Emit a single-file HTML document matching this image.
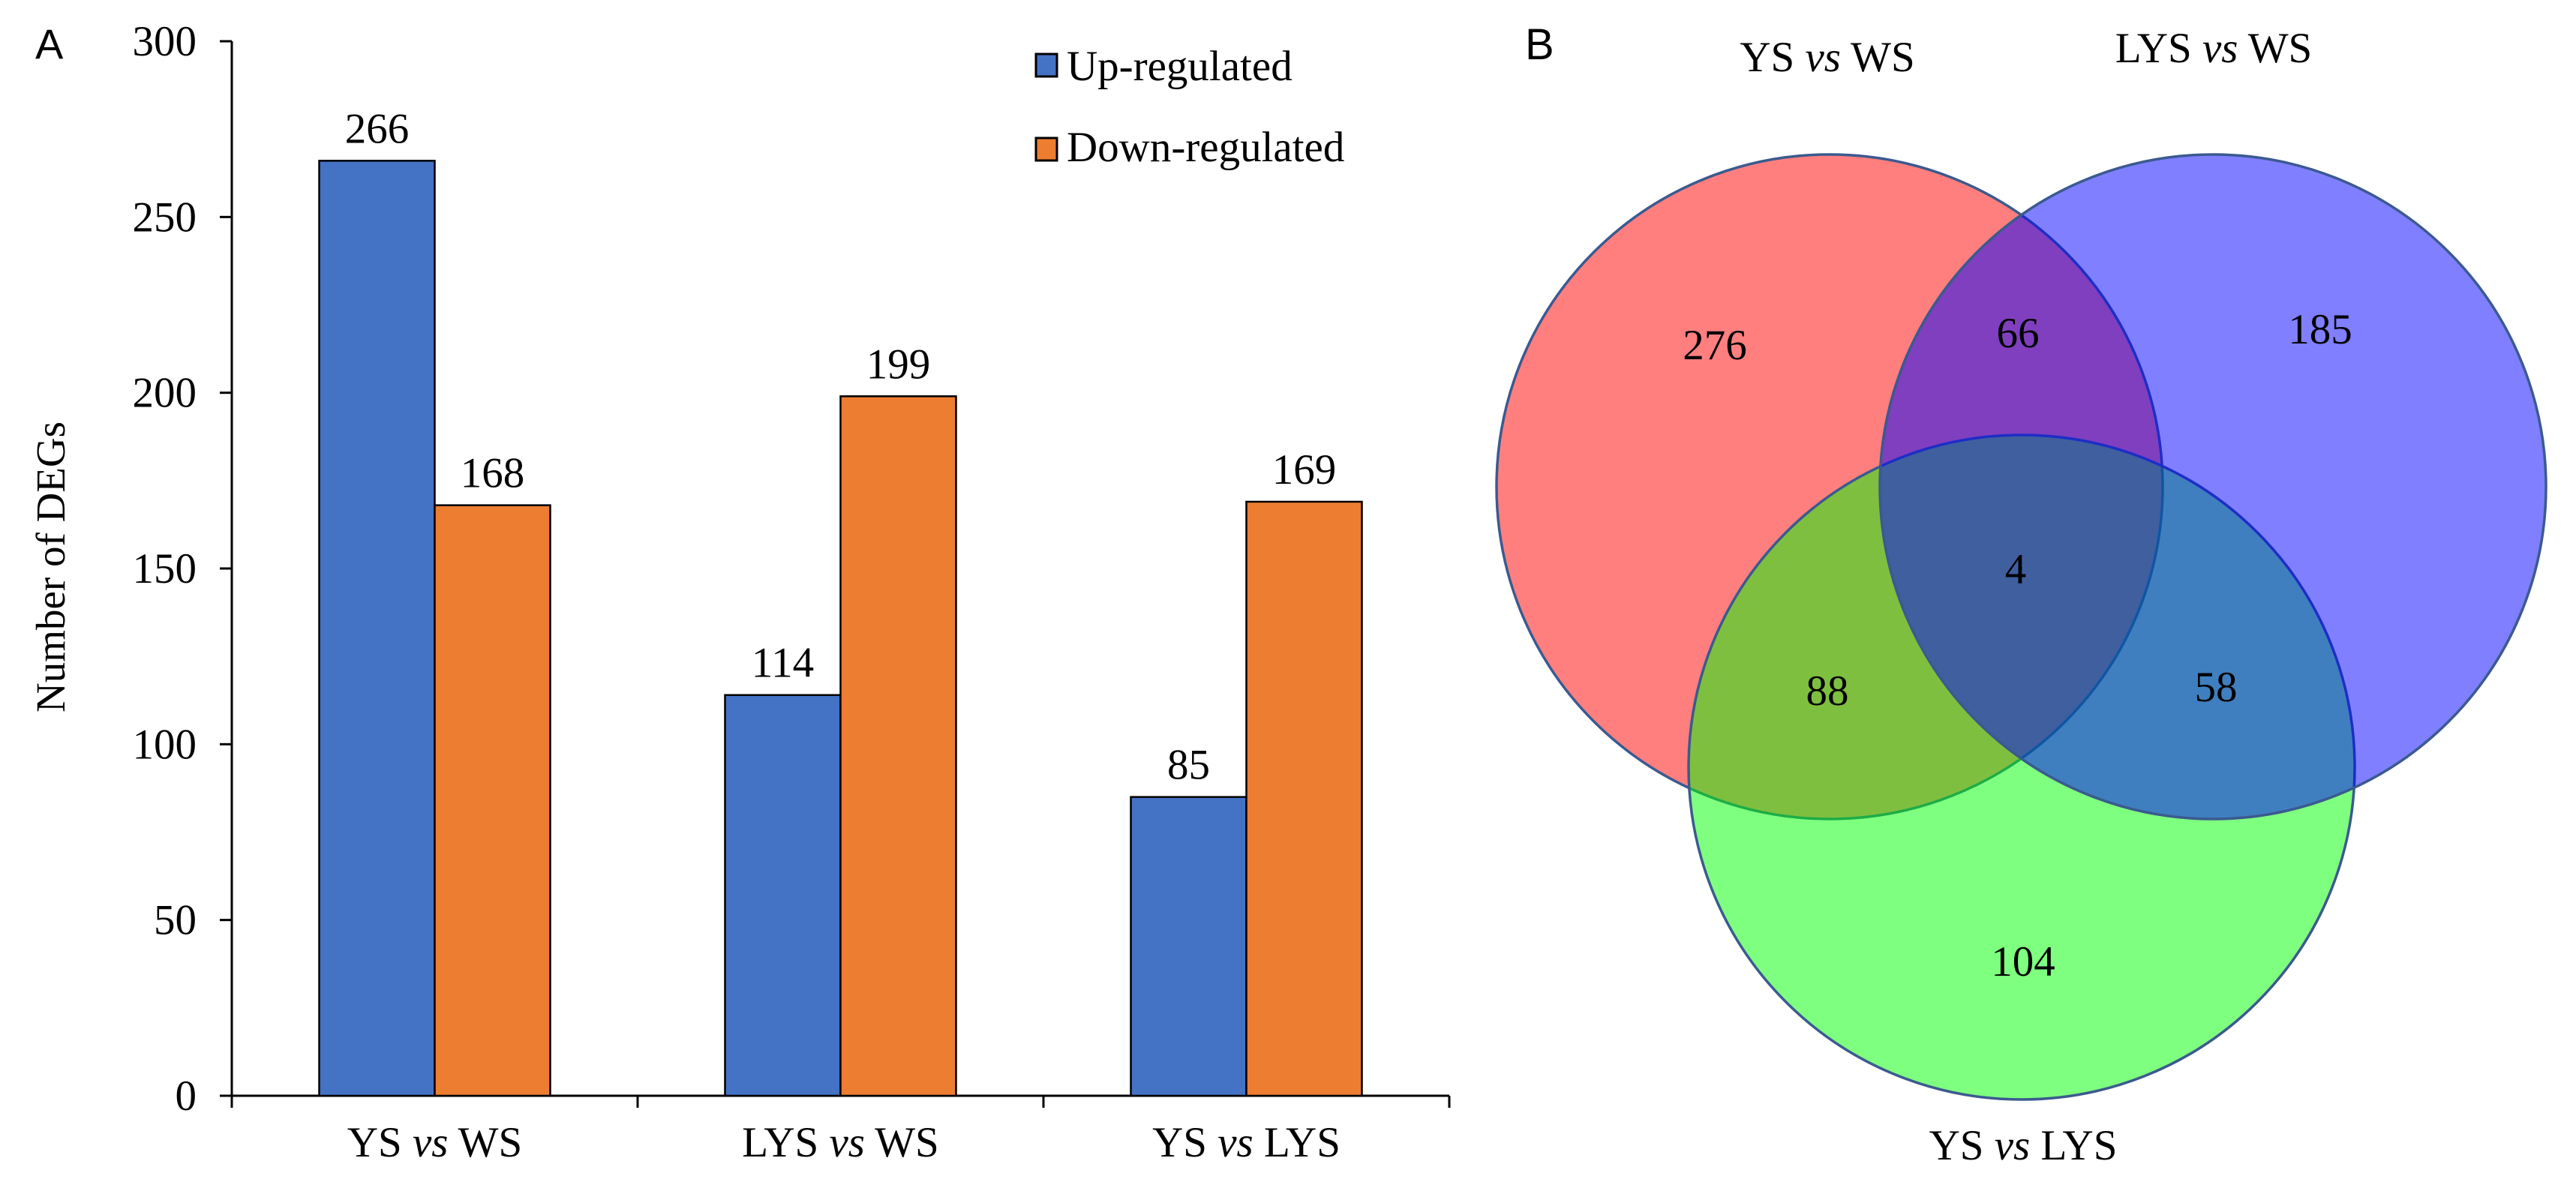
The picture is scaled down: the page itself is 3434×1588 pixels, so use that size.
<!DOCTYPE html>
<html><head><meta charset="utf-8">
<style>
html,body{margin:0;padding:0;background:#fff;}
svg{display:block;font-family:"Liberation Serif",serif;}
.sans{font-family:"Liberation Sans",sans-serif;}
</style></head>
<body>
<svg id="fig" width="3434" height="1588" viewBox="0 0 3434 1588" xmlns="http://www.w3.org/2000/svg">
  <text class="sans" x="47" y="78" font-size="56">A</text>
  <g id="chart"></g>
  <g id="venn"></g>
</svg>
<script>
const categories = ["YS", "LYS", "YS"];
const categories2 = ["WS", "WS", "LYS"];
const upValues = [266, 114, 85];
const downValues = [168, 199, 169];
const yTicks = [0, 50, 100, 150, 200, 250, 300];
const vennCounts = [276, 66, 185, 4, 88, 58, 104];

const NS = "http://www.w3.org/2000/svg";
const FS = 57;
function mk(tag, attrs, parent, text){
  const e = document.createElementNS(NS, tag);
  for (const k in attrs) e.setAttribute(k, attrs[k]);
  if (text !== undefined) e.textContent = text;
  parent.appendChild(e);
  return e;
}
const chart = document.getElementById("chart");
const X0 = 309, X1 = 1932, Y0 = 1461, Y1 = 55, YMAX = 300;
const catW = (X1 - X0) / categories.length;
const barW = 154;
function y(v){ return Y0 - v * (Y0 - Y1) / YMAX; }
function xc(i){ return X0 + catW * (i + 0.5); }

let ax = mk("line", {x1:X0, y1:Y1, x2:X0, y2:Y0, stroke:"#000", "stroke-width":3}, chart);


ax = mk("line", {x1:X0, y1:Y0, x2:X1, y2:Y0, stroke:"#000", "stroke-width":3}, chart);



yTicks.forEach(t => {
  const tk = mk("line", {x1:X0-16, y1:y(t), x2:X0, y2:y(t), stroke:"#000", "stroke-width":3}, chart);
  
  
  const lb = mk("text", {x:262, y:y(t)+19, "font-size":FS, "text-anchor":"end"}, chart, String(t));
  
  
});
for (let i = 0; i <= categories.length; i++){
  const tk = mk("line", {x1:X0+catW*i, y1:Y0, x2:X0+catW*i, y2:Y0+16, stroke:"#000", "stroke-width":3}, chart);
  
  
}
const yt = mk("text", {x:0, y:0, "font-size":55, "text-anchor":"middle", transform:"translate(86,756) rotate(-90)"}, chart, "Number of DEGs");



categories.forEach((c, i) => {
  const cx = xc(i);
  const bu = mk("rect", {x:cx-barW, y:y(upValues[i]), width:barW, height:Y0-y(upValues[i]), fill:"#4472c4", stroke:"#000", "stroke-width":2.5}, chart);
  
  
  const bd = mk("rect", {x:cx, y:y(downValues[i]), width:barW, height:Y0-y(downValues[i]), fill:"#ed7d31", stroke:"#000", "stroke-width":2.5}, chart);
  
  
  const lu = mk("text", {x:cx-barW/2, y:y(upValues[i])-24, "font-size":FS, "text-anchor":"middle"}, chart, String(upValues[i]));
  
  
  const ld = mk("text", {x:cx+barW/2, y:y(downValues[i])-24, "font-size":FS, "text-anchor":"middle"}, chart, String(downValues[i]));
  
  
  const cl = mk("text", {x:cx, y:1542, "font-size":FS, "text-anchor":"middle"}, chart);
  
  
  mk("tspan", {}, cl, categories[i] + " ");
  mk("tspan", {"font-style":"italic"}, cl, "vs");
  mk("tspan", {}, cl, " " + categories2[i]);
});

const legItems = [["Up-regulated", "#4472c4", 87, 107], ["Down-regulated", "#ed7d31", 199, 215]];
legItems.forEach(l => {
  const g = mk("g", {}, chart);
  
  
  mk("rect", {x:1381, y:l[2]-15, width:28, height:30, fill:l[1], stroke:"#000", "stroke-width":3}, g);
  mk("text", {x:1422, y:l[3], "font-size":FS}, g, l[0]);
});

const venn = document.getElementById("venn");
const B = mk("text", {x:2033, y:79, "font-size":58, "font-family":"Liberation Sans, sans-serif"}, venn, "B");


const circles = [
  ["circle-ys-vs-ws", 2439, 649, "rgba(255,0,0,0.5)"],
  ["circle-ys-vs-lys", 2695, 1023, "rgba(0,255,0,0.5)"],
  ["circle-lys-vs-ws", 2950, 649, "rgba(0,0,255,0.5)"]
];
circles.forEach(c => {
  const e = mk("ellipse", {cx:c[1], cy:c[2], rx:444, ry:443, fill:c[3], stroke:"#3b5a8f", "stroke-width":3.5}, venn);
  
  
});
const vennPos = [[2286,479],[2690,463],[3093,458],[2687,778],[2436,940],[2954,935],[2697,1301]];
vennCounts.forEach((v, i) => {
  const t = mk("text", {x:vennPos[i][0], y:vennPos[i][1], "font-size":FS, "text-anchor":"middle"}, venn, String(v));
  
  
});
const titles = [["YS","WS",2436,95],["LYS","WS",2951,83],["YS","LYS",2697,1546]];
titles.forEach(tt => {
  const t = mk("text", {x:tt[2], y:tt[3], "font-size":FS, "text-anchor":"middle"}, venn);
  
  
  mk("tspan", {}, t, tt[0] + " ");
  mk("tspan", {"font-style":"italic"}, t, "vs");
  mk("tspan", {}, t, " " + tt[1]);
});
</script>
</body></html>
